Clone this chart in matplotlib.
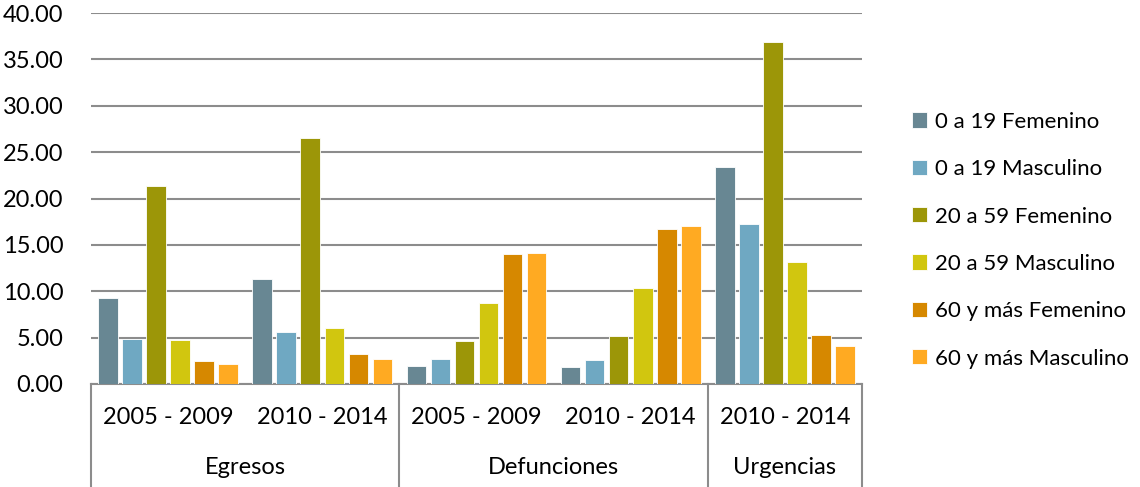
import matplotlib
matplotlib.use("Agg")
import matplotlib.pyplot as plt
import matplotlib.transforms as mtransforms
import numpy as np

plt.rcParams['font.family'] = ['Lato', 'DejaVu Sans']

periods = ['2005 - 2009', '2010 - 2014', '2005 - 2009', '2010 - 2014', '2010 - 2014']
groups = ['Egresos', 'Defunciones', 'Urgencias']
group_sizes = [2, 2, 1]

series = ['0 a 19 Femenino', '0 a 19 Masculino', '20 a 59 Femenino',
          '20 a 59 Masculino', '60 y más Femenino', '60 y más Masculino']
f_0_19 = [9.30, 11.30, 1.94, 1.83, 23.40]
m_0_19 = [4.90, 5.57, 2.70, 2.59, 17.25]
f_20_59 = [21.35, 26.50, 4.64, 5.18, 36.90]
m_20_59 = [4.74, 6.04, 8.77, 10.35, 13.10]
f_60 = [2.45, 3.23, 13.98, 16.70, 5.25]
m_60 = [2.15, 2.70, 14.12, 17.00, 4.06]
values = [f_0_19, m_0_19, f_20_59, m_20_59, f_60, m_60]
colors = ['#688793', '#6fa8c2', '#9c9608', '#d1c60f', '#d68800', '#ffaa22']

fs = 17

fig = plt.figure(figsize=(11.4, 4.87), dpi=100)
ax = fig.add_axes([91/1140, 103/487, (862-91)/1140, (384-13)/487])

x = np.arange(len(periods))
step = 0.156
width = 0.127
for i, (name, vals, c) in enumerate(zip(series, values, colors)):
    ax.bar(x + (i - 2.5) * step, vals, width, color=c, label=name,
           edgecolor='white', linewidth=0.6, zorder=3)

ax.set_xlim(-0.5, len(periods) - 0.5)
ax.set_ylim(0, 40)
ax.set_yticks(np.arange(0, 41, 5))
ax.set_yticklabels(['%.2f' % v for v in np.arange(0, 41, 5)], fontsize=fs)
ax.yaxis.grid(True, color='#8c8c8c', linewidth=1.5, zorder=0)
ax.tick_params(axis='y', length=0, pad=20)
ax.tick_params(axis='x', length=0)
ax.set_xticks([])
for s in ['left', 'right', 'top']:
    ax.spines[s].set_visible(False)
ax.spines['bottom'].set_color('#8c8c8c')
ax.spines['bottom'].set_linewidth(1.5)

trans = mtransforms.blended_transform_factory(ax.transData, fig.transFigure)
for xi, p in zip(x, periods):
    ax.text(xi, 1 - 418/487, p, transform=trans, ha='center', va='center', fontsize=fs)

start = -0.5
bounds = [start]
for g, n in zip(groups, group_sizes):
    ax.text(start + n / 2, 1 - 468/487, g, transform=trans, ha='center', va='center', fontsize=fs)
    start += n
    bounds.append(start)
for b in bounds:
    ax.plot([b, b], [1 - 384/487, 0], transform=trans, color='#8c8c8c',
            linewidth=1.5, clip_on=False)

ax.legend(loc='upper left', bbox_to_anchor=(903/1140, 1 - 103/487), bbox_transform=fig.transFigure,
          frameon=False, fontsize=16, handlelength=0.68, handleheight=0.68,
          handletextpad=0.35, labelspacing=1.23, borderaxespad=0)

fig.savefig('out.png', dpi=100)
